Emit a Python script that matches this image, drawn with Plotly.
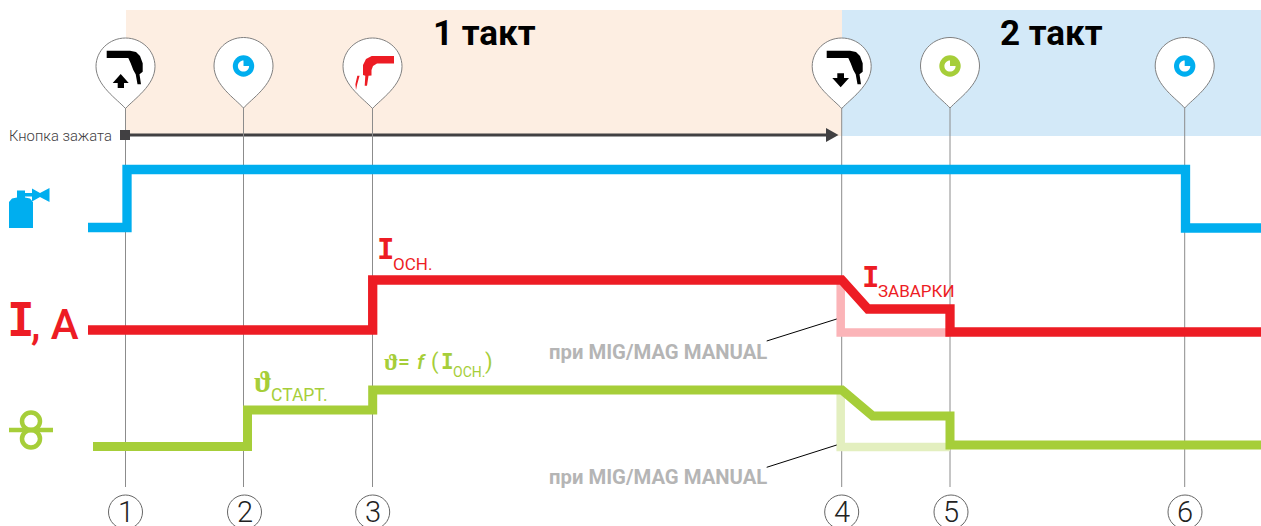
# -*- coding: utf-8 -*-
import plotly.graph_objs as go

# Events along the time axis and the values
event_t = [125.5, 243.5, 372.5, 841.7, 950, 1184.7]
event_num = ["1", "2", "3", "4", "5", "6"]
num_t = [125.5, 244.5, 372.7, 841.7, 951, 1185]

gas_t = [88, 127, 127, 1185.5, 1185.5, 1261]
gas_v = [227.5, 227.5, 169.5, 169.5, 228, 228]

cur_t = [88, 372.7, 372.7, 841.7, 868, 950, 950, 1261]
cur_v = [330, 330, 280, 280, 309, 309, 332, 332]
cur_manual_t = [840.7, 840.7, 950]
cur_manual_v = [280, 332.5, 332.5]

wire_t = [93, 247.5, 247.5, 372.7, 372.7, 842, 872.7, 950, 950, 1261]
wire_v = [446.5, 446.5, 410, 410, 390, 390, 416, 416, 445, 445]
wire_manual_t = [840.7, 840.7, 950]
wire_manual_v = [390, 447, 447]

button_t = [125, 830]
button_v = [135, 135]
lead1_t = [766.7, 836.7]
lead1_v = [341, 319]
lead2_t = [766.7, 836.7]
lead2_v = [467.3, 445]

BLUE = "#00aeef"
RED = "#ed1c24"
GREEN = "#a6ce39"
DARK = "#414042"
GRAY = "#b5b5b5"
SLAB = "DejaVu Sans Mono"
THETA = "Liberation Serif"


def poly(points):
    return "M " + " L ".join(f"{x},{y}" for x, y in points) + " Z"


def pin_path(x, top, tip):
    mid = top + 28.5
    return (f"M {x},{tip} C {x-8},{tip-9} {x-29.5},{mid+19} {x-29.5},{mid} "
            f"C {x-29.5},{mid-16} {x-16},{top} {x},{top} "
            f"C {x+16},{top} {x+29.5},{mid-16} {x+29.5},{mid} "
            f"C {x+29.5},{mid+19} {x+8},{tip-9} {x},{tip} Z")


def torch_pts(dx):
    pts = [(106.7, 50.7), (130, 50.7), (136, 52), (140, 56), (142.7, 63.3), (142.7, 71.7),
           (139.5, 74.3), (141, 84.3), (137.5, 84.3), (135.7, 74.3), (133.3, 70), (130.7, 63.3),
           (128.3, 58), (106.7, 58)]
    return [(x + dx, y) for x, y in pts]


def shape_path(path, fill, line=None, width=0, layer="above"):
    return dict(type="path", path=path, fillcolor=fill, layer=layer,
                line=dict(color=line or fill, width=width))


def clock(x, color, y=66):
    r = 5.6
    k = r * 0.5523
    # three quarters of the inner disc stay white
    inner = (f"M {x},{y} L {x+r},{y} C {x+r},{y+k} {x+k},{y+r} {x},{y+r} "
             f"C {x-k},{y+r} {x-r},{y+k} {x-r},{y} C {x-r},{y-k} {x-k},{y-r} {x},{y-r} Z")
    return [
        dict(type="circle", x0=x-10.7, x1=x+10.7, y0=y-10.7, y1=y+10.7, fillcolor=color,
             line=dict(width=0), layer="above"),
        shape_path(inner, "white"),
    ]


fig = go.Figure()


def add_line(t, v, color, width):
    fig.add_trace(go.Scatter(x=t, y=v, mode="lines", hoverinfo="skip",
                             line=dict(color=color, width=width, shape="linear"),
                             showlegend=False, cliponaxis=False))


add_line(button_t, button_v, DARK, 3)

# the thin event lines
vert_t, vert_v = [], []
for t in event_t:
    vert_t += [t, t, None]
    vert_v += [108, 487, None]
add_line(vert_t, vert_v, "#8c8c8c", 1)

add_line(cur_manual_t, cur_manual_v, "#fbb4b8", 8.5)
add_line(wire_manual_t, wire_manual_v, "#e3efbf", 8.5)
add_line(gas_t, gas_v, BLUE, 9.3)
add_line(cur_t, cur_v, RED, 9.3)
add_line(wire_t, wire_v, GREEN, 9)
add_line(lead1_t, lead1_v, "black", 1)
add_line(lead2_t, lead2_v, "black", 1)

shapes = [
    dict(type="rect", x0=126, x1=842, y0=10, y1=136, fillcolor="#fdeee2", line=dict(width=0), layer="below"),
    dict(type="rect", x0=842, x1=1261, y0=10, y1=136, fillcolor="#d3e9f8", line=dict(width=0), layer="below"),
    # button square and arrow head
    dict(type="rect", x0=120, x1=130, y0=130, y1=140, fillcolor=DARK, line=dict(width=0), layer="above"),
    shape_path(poly([(826, 128), (838.5, 135), (826, 142)]), DARK),
]

# pins
pin_tops = [38, 37.5, 38, 38, 37.5, 37.5]
for t, top in zip(event_t, pin_tops):
    shapes.append(shape_path(pin_path(t, top, top + 70.5), "white", "#808080", 1))

# torch with arrow up, torch with arrow down
shapes.append(shape_path(poly(torch_pts(0)), "black"))
shapes.append(shape_path(poly([(120.7, 74), (128.7, 83), (124, 83), (124, 88), (117.7, 88), (117.7, 83), (112.7, 83)]), "black"))
shapes.append(shape_path(poly(torch_pts(720)), "black"))
shapes.append(shape_path(poly([(837.3, 73.3), (844, 73.3), (844, 78), (849, 78), (840.7, 87.3), (832.3, 78), (837.3, 78)]), "black"))

# red torch in pin 3
shapes.append(shape_path(poly([(394, 56), (394, 63.5), (377, 63.5), (373, 66), (371.5, 70), (371.5, 75.5), (368.5, 75.7), (367, 85.7),
                               (364.7, 85.7), (365.3, 75.7), (363, 75), (363, 65), (366, 59), (371.7, 56)]), RED))
shapes.append(shape_path(poly([(357.3, 75.7), (359.6, 75.7), (357.2, 84.3), (356, 90), (355.4, 84.3)]), RED))

shapes += clock(243.5, BLUE) + clock(950, GREEN) + clock(1184.7, BLUE)

# bottle icon
shapes.append(shape_path(poly([(9, 228), (9, 202), (12, 198.5), (17, 197.5), (17, 190.5), (25, 190.5), (25, 193),
                               (32, 193), (32, 188.5), (40, 193), (49.5, 188), (49.5, 202), (40, 197), (32, 201.5),
                               (32, 196.5), (25, 196.5), (25, 197.5), (30, 198.5), (33, 202), (33, 228)]), BLUE))

# wire speed icon
shapes += [
    dict(type="circle", x0=22, x1=40, y0=412.5, y1=430, line=dict(color=GREEN, width=4.5), layer="above"),
    dict(type="circle", x0=22, x1=40, y0=430, y1=447.5, line=dict(color=GREEN, width=4.5), layer="above"),
    dict(type="line", x0=9, x1=53, y0=430, y1=430, line=dict(color=GREEN, width=4.5), layer="above"),
]

# circled numbers at the bottom
for t in num_t:
    shapes.append(dict(type="circle", x0=t-17, x1=t+17, y0=495, y1=529, line=dict(color="#666666", width=1), layer="above"))

annots = []


def label(x, y, s, size, color, family="Roboto", weight=400, anchor="left", italic=False, height=None):
    annots.append(dict(x=x, y=y, text=s, showarrow=False, xanchor=anchor, yanchor="middle",
                       xref="x", yref="y", borderpad=0, borderwidth=0, height=height,
                       font=dict(family=family, size=size, color=color, weight=weight,
                                 style="italic" if italic else "normal")))


label(484, 33, "1 такт", 35, "black", weight=700, anchor="center")
label(1051.5, 33, "2 такт", 35, "black", weight=700, anchor="center")
label(112, 136, "Кнопка зажата", 14.8, "#414042", weight=300, anchor="right")

label(20.5, 320, "I", 46, RED, family=SLAB, weight=700, anchor="center")
label(31, 324, ", A", 42, RED, weight=500)

label(385.5, 249, "I", 29, RED, family=SLAB, weight=700, anchor="center")
label(393, 264, "ОСН.", 17, RED)
label(870.5, 277, "I", 29, RED, family=SLAB, weight=700, anchor="center")
label(878, 291, "ЗАВАРКИ", 17, RED)

label(254, 381, "ϑ", 30, GREEN, family=THETA, weight=700)
label(271, 395, "СТАРТ.", 17.5, GREEN)

label(384, 362, "ϑ", 24, GREEN, family=THETA, weight=700)
label(398, 362, "=", 21, GREEN, weight=500)
label(417, 362, "f", 21, GREEN, weight=500, italic=True)
label(431, 362, "(", 22, GREEN, weight=400)
label(447, 362, "I", 21, GREEN, family=SLAB, weight=700, anchor="center")
label(453, 372, "ОСН.", 14, GREEN)
label(485, 362, ")", 22, GREEN, weight=400)

label(657.5, 352, "при MIG/MAG MANUAL", 20.3, GRAY, weight=700, anchor="center")
label(657.5, 477, "при MIG/MAG MANUAL", 20.3, GRAY, weight=700, anchor="center")

for t, s in zip(num_t, event_num):
    label(t, 512, s, 29, "#222222", weight=300, anchor="center", height=26)

fig.update_layout(
    width=1261, height=526, autosize=False,
    margin=dict(l=0, r=0, t=0, b=0),
    paper_bgcolor="white", plot_bgcolor="white",
    showlegend=False, shapes=shapes, annotations=annots,
    xaxis=dict(range=[0, 1261], visible=False, fixedrange=True),
    yaxis=dict(range=[526, 0], visible=False, fixedrange=True),
)

# page margin would push the figure 8px off
page_fix = "document.body.style.margin='0';document.documentElement.style.overflow='hidden';"
fig.write_html("out.html", config=dict(displayModeBar=False), post_script=page_fix)
